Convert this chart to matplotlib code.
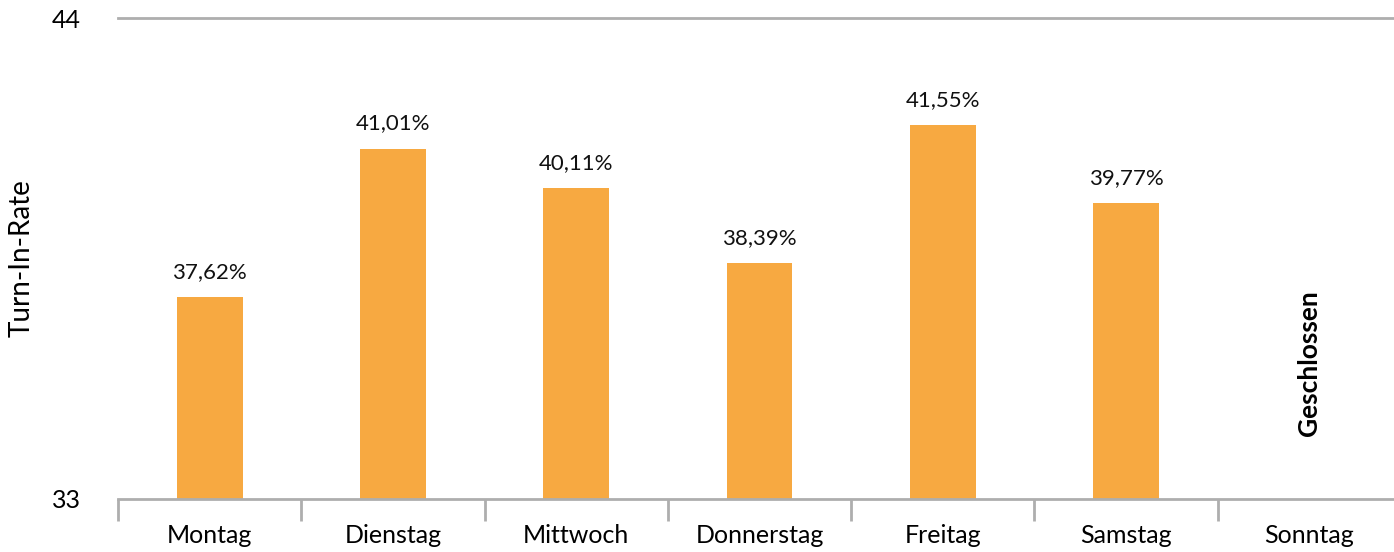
import matplotlib
matplotlib.use("Agg")
import matplotlib.pyplot as plt

# data
days = ["Montag", "Dienstag", "Mittwoch", "Donnerstag", "Freitag", "Samstag", "Sonntag"]
rates = [37.62, 41.01, 40.11, 38.39, 41.55, 39.77, None]
y_ticks = [33, 44]
closed_label = "Geschlossen"

plt.rcParams["font.family"] = ["Lato", "DejaVu Sans"]

fig = plt.figure(figsize=(13.94, 5.52), dpi=100)
# axes spans a bit past the right edge, like the original
ax = fig.add_axes([118 / 1394, 53 / 552, (1401 - 118) / 1394, (499 - 18) / 552])

bar_col = "#F7A941"
grid_col = "#AEAEAE"

xs = [i for i, r in enumerate(rates) if r is not None]
vals = [r for r in rates if r is not None]
bars = ax.bar(xs, [v - 33 for v in vals], bottom=33, width=0.36, color=bar_col, zorder=2)

for x, v in zip(xs, vals):
    ax.annotate(("%.2f%%" % v).replace(".", ","), (x, v), xytext=(0, 11),
                textcoords="offset points", ha="center", va="bottom",
                fontsize=16, color="#111111")

# closed sunday
ax.text(days.index("Sonntag"), 36.1, closed_label, rotation=90, ha="center",
        va="center", fontsize=19, fontweight="bold", color="black")

ax.set_xlim(-0.5, len(days) - 0.5)
ax.set_ylim(33, 44)
ax.set_yticks(y_ticks)
ax.set_yticklabels([str(t) for t in y_ticks], fontsize=18)
ax.tick_params(axis="y", length=0, pad=27)

# category labels centered, tick marks on category boundaries
ax.set_xticks(range(len(days)))
ax.set_xticklabels(days, fontsize=18)
ax.tick_params(axis="x", which="major", length=0, pad=18)
ax.set_xticks([i - 0.5 for i in range(len(days) + 1)], minor=True)
ax.tick_params(axis="x", which="minor", length=16, width=2, color=grid_col)

ax.axhline(44, color=grid_col, lw=2, zorder=1, clip_on=False)

for s in ["top", "right", "left"]:
    ax.spines[s].set_visible(False)
ax.spines["bottom"].set_color(grid_col)
ax.spines["bottom"].set_linewidth(2)

ax.set_ylabel("Turn-In-Rate", fontsize=20)
ax.yaxis.set_label_coords(-0.065, 0.5)

fig.savefig("out.png", dpi=100)
